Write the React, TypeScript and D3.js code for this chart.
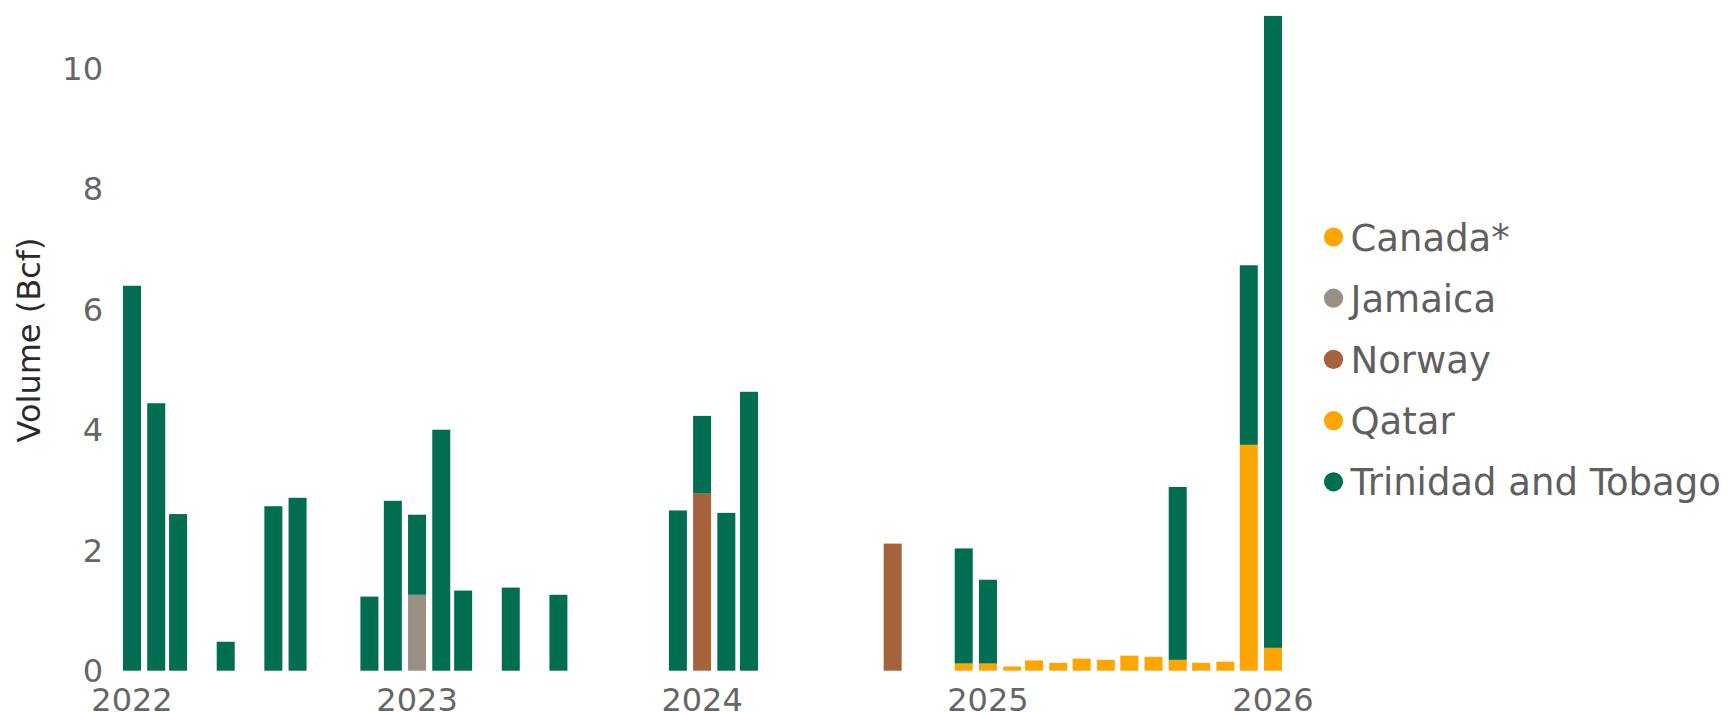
import React, { useEffect, useRef } from "react";
import * as d3 from "d3";

// months that have at least one shipment
const months = [
  "2022-01", "2022-02", "2022-03", "2022-05", "2022-07", "2022-08", "2022-11", "2022-12",
  "2023-01", "2023-02", "2023-03", "2023-05", "2023-07", "2023-12",
  "2024-01", "2024-02", "2024-03", "2024-09", "2024-12",
  "2025-01", "2025-02", "2025-03", "2025-04", "2025-05", "2025-06", "2025-07", "2025-08",
  "2025-09", "2025-10", "2025-11", "2025-12",
  "2026-01",
];

const canada = [
  0, 0, 0, 0, 0, 0, 0, 0,
  0, 0, 0, 0, 0, 0,
  0, 0, 0, 0, 0.12,
  0.12, 0.07, 0.17, 0.13, 0.2, 0.18, 0.25, 0.23,
  0.18, 0.13, 0.15, 0,
  0.38,
];
const jamaica = [
  0, 0, 0, 0, 0, 0, 0, 0,
  1.26, 0, 0, 0, 0, 0,
  0, 0, 0, 0, 0,
  0, 0, 0, 0, 0, 0, 0, 0,
  0, 0, 0, 0,
  0,
];
const norway = [
  0, 0, 0, 0, 0, 0, 0, 0,
  0, 0, 0, 0, 0, 0,
  2.94, 0, 0, 2.11, 0,
  0, 0, 0, 0, 0, 0, 0, 0,
  0, 0, 0, 0,
  0,
];
const qatar = [
  0, 0, 0, 0, 0, 0, 0, 0,
  0, 0, 0, 0, 0, 0,
  0, 0, 0, 0, 0,
  0, 0, 0, 0, 0, 0, 0, 0,
  0, 0, 0, 3.75,
  0,
];
const trinidad = [
  6.39, 4.44, 2.6, 0.48, 2.73, 2.87, 1.23, 2.82,
  1.33, 4.0, 1.33, 1.38, 1.26, 2.66,
  1.29, 2.62, 4.63, 0, 1.91,
  1.39, 0, 0, 0, 0, 0, 0, 0,
  2.87, 0, 0, 2.98,
  10.49,
];

const seriesNames = ["Canada*", "Jamaica", "Norway", "Qatar", "Trinidad and Tobago"];
const seriesColors = ["#FFA500", "#9A8F84", "#A4633A", "#FFA500", "#026E51"];
const yTicks = [0, 2, 4, 6, 8, 10];
const yearTicks = ["2022", "2023", "2024", "2025", "2026"];

const App = () => {
  const ref = useRef<SVGSVGElement | null>(null);
  const width = 1732,
    height = 714;

  useEffect(() => {
    const svg = d3.select(ref.current);
    svg.selectAll("*").remove();

    const parse = d3.utcParse("%Y-%m");
    const x = d3
      .scaleUtc()
      .domain([parse("2022-01"), parse("2026-01")] as Date[])
      .range([132, 1273]);
    const y = d3.scaleLinear().domain([0, 10]).range([670.7, 68.3]);

    const values = [canada, jamaica, norway, qatar, trinidad];
    const table = months.map((m, i) => {
      const row: any = { date: parse(m) };
      seriesNames.forEach((s, k) => (row[s] = values[k][i]));
      return row;
    });

    const stacked = d3.stack().keys(seriesNames)(table);
    const barW = 18;

    svg
      .append("g")
      .selectAll("g")
      .data(stacked)
      .enter()
      .append("g")
      .attr("fill", (d, i) => seriesColors[i])
      .selectAll("rect")
      .data(d => d.filter(p => p[1] - p[0] > 0))
      .enter()
      .append("rect")
      .attr("x", (d: any) => x(d.data.date) - barW / 2)
      .attr("width", barW)
      .attr("y", d => y(d[1]))
      .attr("height", d => y(d[0]) - y(d[1]));

    const font = "'DejaVu Sans', Verdana, sans-serif";

    // y tick labels
    svg
      .append("g")
      .selectAll("text")
      .data(yTicks)
      .enter()
      .append("text")
      .attr("x", 103)
      .attr("y", d => y(d))
      .attr("dy", "0.36em")
      .attr("text-anchor", "end")
      .attr("font-family", font)
      .attr("font-size", 32)
      .attr("fill", "#666666")
      .text(d => d);

    // x year labels
    svg
      .append("g")
      .selectAll("text")
      .data(yearTicks)
      .enter()
      .append("text")
      .attr("x", d => x(parse(d + "-01") as Date))
      .attr("y", 710.5)
      .attr("text-anchor", "middle")
      .attr("font-family", font)
      .attr("font-size", 32)
      .attr("fill", "#666666")
      .text(d => d);

    // y axis title
    svg
      .append("text")
      .attr("transform", "translate(40,340) rotate(-90)")
      .attr("text-anchor", "middle")
      .attr("font-family", font)
      .attr("font-size", 32)
      .attr("fill", "#2a2a2a")
      .text("Volume (Bcf)");

    // legend
    const legend = svg
      .append("g")
      .selectAll("g")
      .data(seriesNames)
      .enter()
      .append("g")
      .attr("transform", (d, i) => "translate(1333.5," + (237 + i * 61.2) + ")");

    legend
      .append("circle")
      .attr("r", 9.6)
      .attr("fill", (d, i) => seriesColors[i]);

    legend
      .append("text")
      .attr("x", 17)
      .attr("y", 13.5)
      .attr("font-family", font)
      .attr("font-size", 37)
      .attr("fill", "#5f5f5f")
      .text(d => d);
  }, []);

  return (
    <div style={{ position: "absolute", left: 0, top: 0 }}>
      <svg ref={ref} width={width} height={height} style={{ display: "block", background: "#fff" }} />
    </div>
  );
};

export default App;
